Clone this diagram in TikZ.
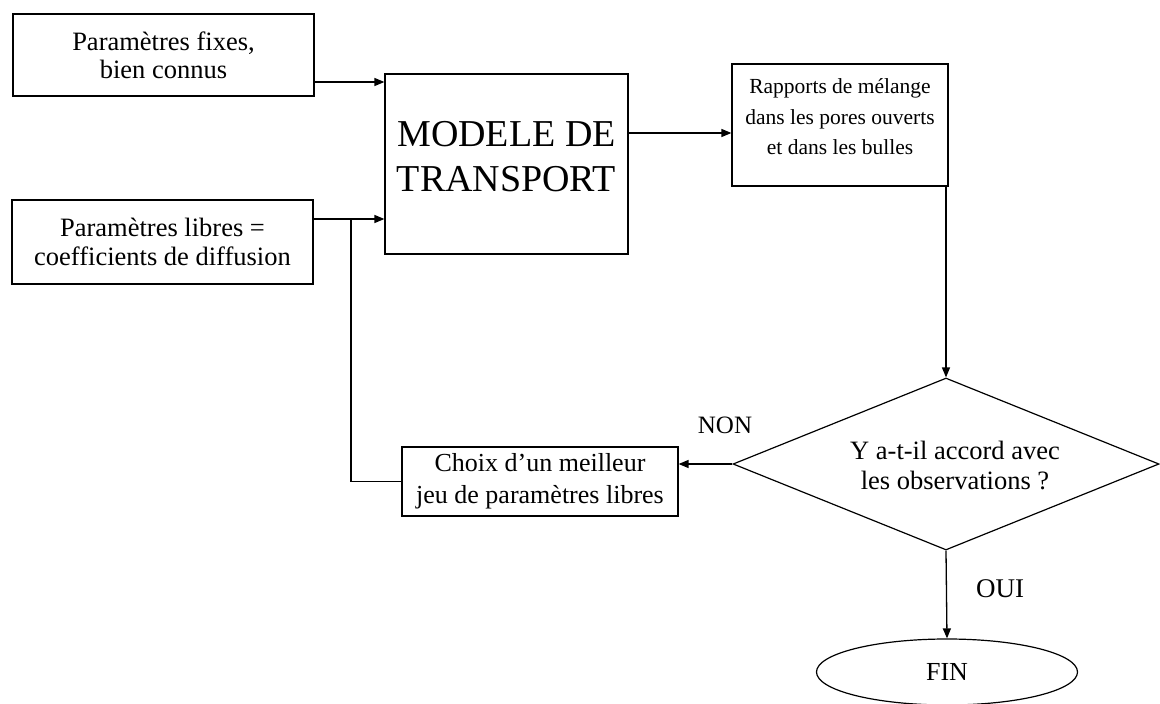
\documentclass[tikz,border=0pt]{standalone}
\usepackage{fontspec}
\setmainfont{Liberation Serif}
\usetikzlibrary{arrows.meta,shapes.geometric}
\begin{document}
\begin{tikzpicture}[x=1pt,y=-1pt,
  txt/.style={font=\fontsize{25}{30}\selectfont, align=center},
  box/.style={draw, line width=1.2pt, rectangle, inner sep=0pt},
  arr/.style={line width=1.3pt, -{Triangle[length=10pt,width=8pt]}},
  conn/.style={line width=1.3pt}]
\useasboundingbox (0,0) rectangle (1160,704);
% boxes
\node[box, minimum width=301pt, minimum height=82pt, txt, font=\fontsize{26.5}{28}\selectfont] (fix) at (163.5,55) {Paramètres fixes,\\bien connus};
\node[box, minimum width=301pt, minimum height=84pt, txt, font=\fontsize{26.5}{29}\selectfont] (lib) at (162.5,242) {Paramètres libres =\\coefficients de diffusion};
\node[box, minimum width=243pt, minimum height=180pt,
  label={[name=modtxt, yshift=7pt, font=\fontsize{38}{45}\selectfont, align=center]center:MODELE DE\\TRANSPORT}] (model) at (506.5,164) {};
\node[box, minimum width=216pt, minimum height=122pt,
  label={[name=raptxt, yshift=8pt, txt, font=\fontsize{21.5}{30.5}\selectfont]center:Rapports de mélange\\dans les pores ouverts\\et dans les bulles}] (rap) at (840,125) {};
\node[box, minimum width=276pt, minimum height=69pt, txt, font=\fontsize{26}{32}\selectfont, yshift=-1pt] (choix) at (540,480.5) {Choix d’un meilleur\\jeu de paramètres libres};
\node[draw, line width=1.2pt, diamond, inner sep=0pt, minimum width=426pt, minimum height=172pt,
  label={[name=diatxt, yshift=-1pt, xshift=9pt, txt, font=\fontsize{26.5}{30}\selectfont]center:Y a-t-il accord avec\\les observations ?}] (dia) at (946,464) {};
\node[draw, line width=1.2pt, ellipse, inner sep=0pt, minimum width=261pt, minimum height=66pt, txt, font=\fontsize{26}{30}\selectfont] (fin) at (947,672) {FIN};
% labels
\node[txt] (non) at (725,425) {NON};
\node[txt, font=\fontsize{27}{30}\selectfont] (oui) at (1000,589) {OUI};
% connectors
\coordinate (p1) at ([yshift=-27pt]fix.east);
\draw[arr] (p1) -- (p1 -| model.west);
\coordinate (p2) at ([yshift=23pt]lib.east);
\draw[arr] (p2) -- (p2 -| model.west);
\coordinate (j) at (351,219);
\draw[conn] (j) |- (choix.west);
\coordinate (p3) at ([yshift=31pt]model.east);
\draw[arr] (p3) -- (p3 -| rap.west);
\draw[arr] (rap.south -| dia.north) -- (dia.north);
\draw[arr] (dia.west) -- (dia.west -| choix.east);
\draw[arr] (dia.south) -- (fin.north);
\end{tikzpicture}
\end{document}
